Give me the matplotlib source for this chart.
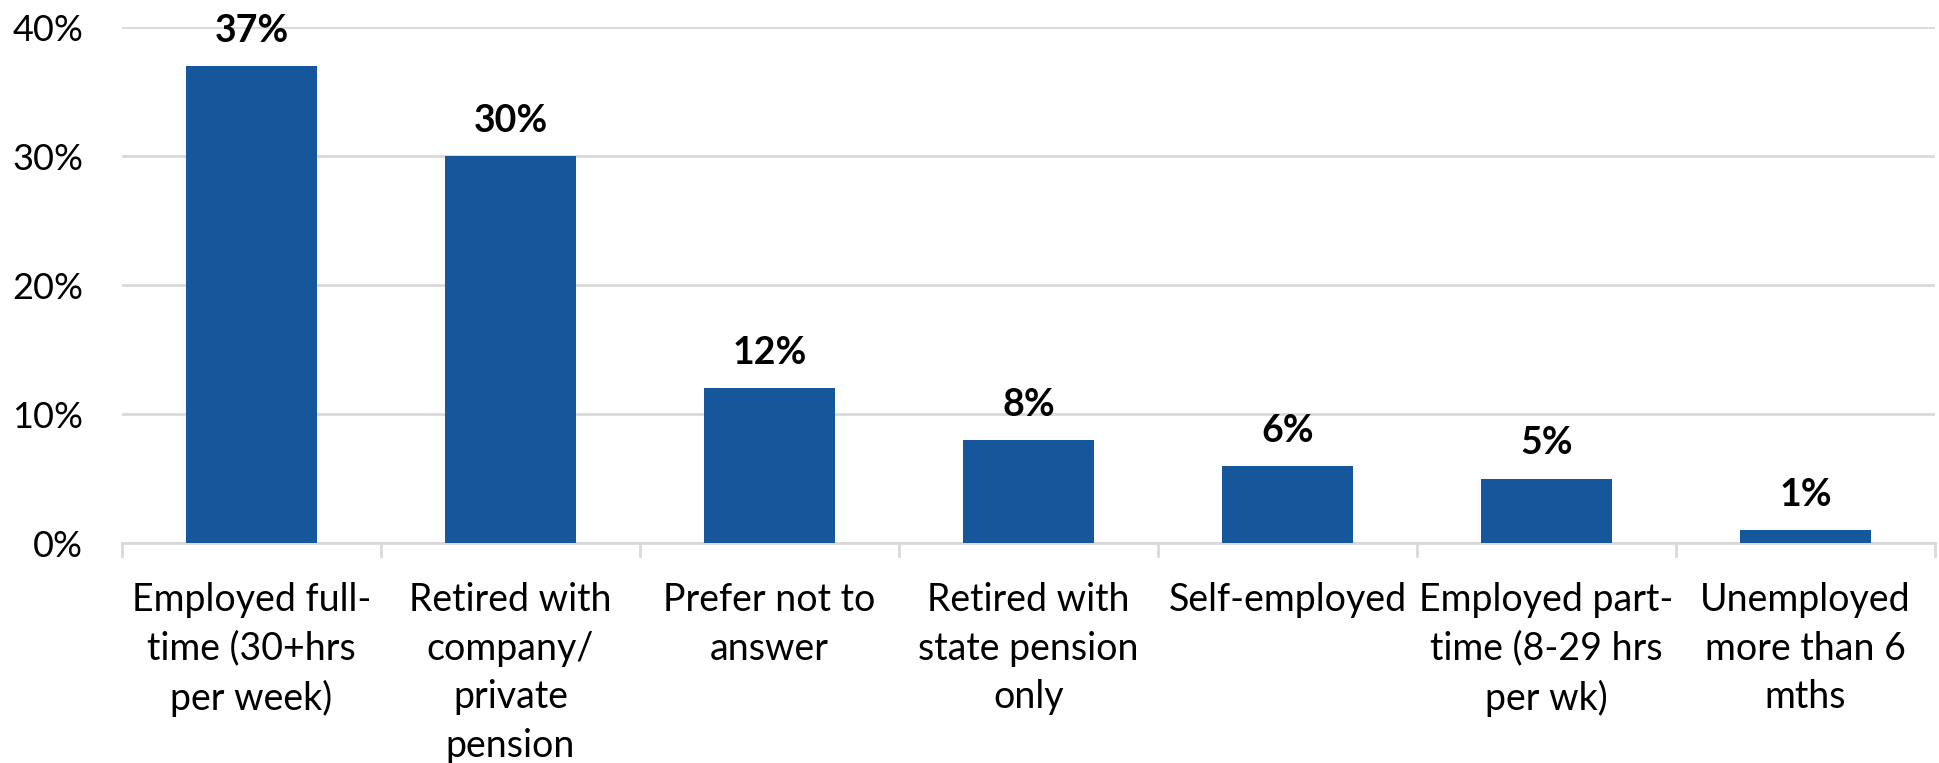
import matplotlib
matplotlib.use("Agg")
import matplotlib.pyplot as plt

categories = [
    "Employed full-\ntime (30+hrs\nper week)",
    "Retired with\ncompany/\nprivate\npension",
    "Prefer not to\nanswer",
    "Retired with\nstate pension\nonly",
    "Self-employed",
    "Employed part-\ntime (8-29 hrs\nper wk)",
    "Unemployed\nmore than 6\nmths",
]
values = [37, 30, 12, 8, 6, 5, 1]
yticks = [0, 10, 20, 30, 40]

plt.rcParams["font.family"] = ["Lato", "DejaVu Sans"]

fig = plt.figure(figsize=(19.39, 7.63), dpi=100)
ax = fig.add_axes([0.0629, 0.2883, 0.9351, 0.6763])

x = range(len(values))
bars = ax.bar(x, values, width=0.506, color="#15579a", zorder=3)

ax.set_xlim(-0.5, len(values) - 0.5)
ax.set_ylim(0, 40)
ax.set_yticks(yticks)
ax.set_yticklabels([f"{v}%" for v in yticks], fontsize=26)
ax.tick_params(axis="y", length=0, pad=28)

ax.set_xticks(x)
ax.set_xticklabels(categories, fontsize=27, linespacing=1.44, va="top")
ax.tick_params(axis="x", length=0, pad=28)

# category separators below the baseline
for b in [i - 0.5 for i in range(len(values) + 1)]:
    ax.plot([b, b], [0, -1.0], color="#d9d9d9", lw=2, clip_on=False, zorder=2)

ax.grid(axis="y", color="#d9d9d9", lw=2, zorder=0)
for s in ["top", "right", "left"]:
    ax.spines[s].set_visible(False)
ax.spines["bottom"].set_color("#d9d9d9")
ax.spines["bottom"].set_linewidth(2)

for rect, v in zip(bars, values):
    ax.annotate(f"{v}%", (rect.get_x() + rect.get_width() / 2, v),
                xytext=(0, 13), textcoords="offset points",
                ha="center", va="bottom", fontsize=27, fontweight="bold",
                annotation_clip=False)

fig.savefig("out.png", dpi=100)
